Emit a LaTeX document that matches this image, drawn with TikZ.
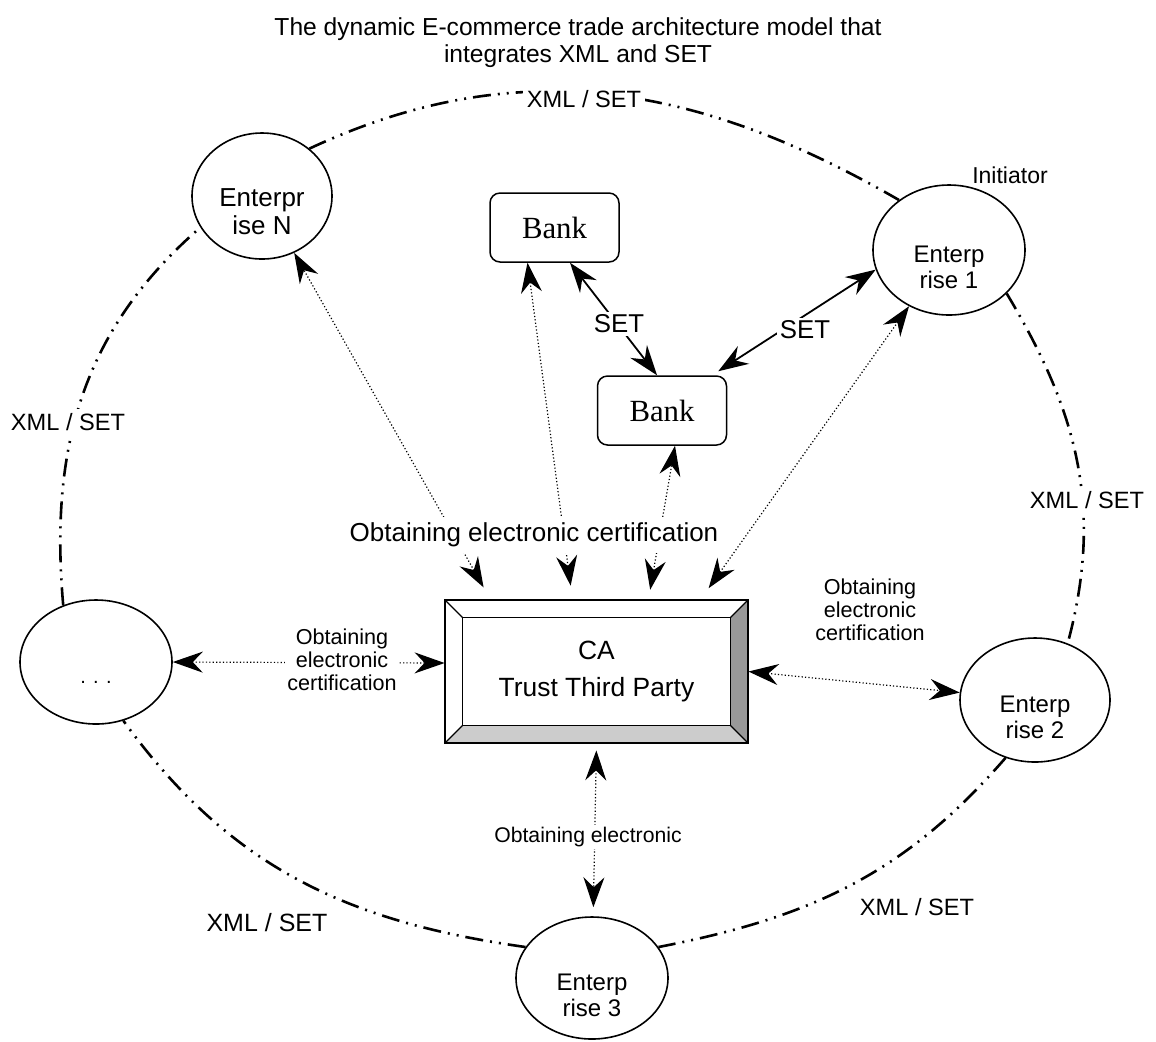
\documentclass[tikz,border=0pt]{standalone}
\usepackage{fontspec}
\setmainfont{Liberation Sans}
\newfontfamily\bankfont{Liberation Serif}
\usetikzlibrary{arrows.meta,shapes.geometric}

\begin{document}
\begin{tikzpicture}[x=0.5pt, y=0.5pt,
  >={Stealth[length=15pt, width=10.5pt, inset=5pt]},
  % Node styles
  entbox/.style={ellipse, draw, fill=white, line width=0.8pt, inner sep=0pt,
    align=center, font=\fontsize{12}{13}\selectfont,
    execute at begin node={\rule{0pt}{#1}}},
  entbox/.default=39pt,
  bankbox/.style={rectangle, rounded corners=5pt, draw, line width=0.75pt,
    minimum width=64.5pt, minimum height=34.5pt,
    font=\bankfont\fontsize{15.4}{17}\selectfont},
  cabox/.style={rectangle, fill=white, minimum width=151.5pt, minimum height=71.5pt,
    align=center, font=\fontsize{13.2}{18.5}\selectfont},
  ringlbl/.style={fill=white, inner sep=2pt, font=\fontsize{11.8}{13}\selectfont},
  certlbl/.style={fill=white, inner sep=1pt, align=center,
    font=\fontsize{10.8}{11.5}\selectfont},
  setlbl/.style={fill=white, inner sep=1.5pt, font=\fontsize{12.9}{14}\selectfont},
  ring/.style={line width=1.3pt,
    dash pattern=on 9pt off 3.5pt on 1pt off 3.5pt on 1pt off 3.5pt},
  certarr/.style={<->, line width=0.6pt, dash pattern=on 0.6pt off 1.1pt},
  setarr/.style={<->, line width=0.9pt},
]
\useasboundingbox (0,0) rectangle (1156,-1041);

% === Title ===
\node[align=center, font=\fontsize{12.3}{13.5}\selectfont] (title) at (578,-43)
  {The dynamic E-commerce trade architecture model that\\integrates XML and SET};

% === Enterprises on the ring ===
\node[entbox, minimum width=70pt, minimum height=63pt, font=\fontsize{13}{14}\selectfont]
  (eN) at (262,-196) {Enterpr\\ise N};
\node[entbox, minimum width=76pt, minimum height=65pt] (e1) at (949,-250) {Enterp\\rise 1};
\node[entbox, minimum width=75pt, minimum height=62pt] (e2) at (1035,-700) {Enterp\\rise 2};
\node[entbox, minimum width=76pt, minimum height=61pt] (e3) at (592,-978) {Enterp\\rise 3};
\node[entbox=21pt, minimum width=76pt, minimum height=62pt, font=\fontsize{10}{11}\selectfont]
  (eDots) at (96,-662) {. . .};

\node[font=\fontsize{11.5}{13}\selectfont] (init) at (1010,-175) {Initiator};

% === Banks ===
\node[bankbox] (bank1) at (554.5,-227.5) {Bank};
\node[bankbox] (bank2) at (662,-410.5) {Bank};

% === CA box with bevel ===
\node[cabox] (ca) at (596.5,-671.5) {CA\\Trust Third Party};
\fill[black!40] (ca.north east) -- (ca.south east) -- ([shift={(-9pt,9pt)}]ca.south east)
  -- ([shift={(-9pt,-9pt)}]ca.north east) -- cycle;
\fill[black!20] (ca.south west) -- (ca.south east) -- ([shift={(-9pt,9pt)}]ca.south east)
  -- ([shift={(9pt,9pt)}]ca.south west) -- cycle;
\draw[line width=0.6pt] ([shift={(9pt,-9pt)}]ca.north west) rectangle ([shift={(-9pt,9pt)}]ca.south east);
\foreach \a/\sx/\sy in {north west/9pt/-9pt, north east/-9pt/-9pt, south west/9pt/9pt, south east/-9pt/9pt}
  \draw[line width=0.6pt] (ca.\a) -- ([shift={(\sx,\sy)}]ca.\a);
\draw[line width=1pt] (ca.north west) rectangle (ca.south east);

% === Ring: XML / SET ===
\draw[ring] (eN.45) to[out=25, in=150] (e1.135);
\draw[ring] (e1.-37) to[out=-59, in=75] (e2.60);
\draw[ring] (e2.-117) to[out=-131, in=11] (e3.25);
\draw[ring] (e3.155) to[out=172, in=-54] (eDots.-65);
\draw[ring] (eDots.120) to[out=95, in=221] (eN.207);

\node[ringlbl] (xmlT) at (584,-99) {XML / SET};
\node[ringlbl] (xmlR) at (1087,-500) {XML / SET};
\node[ringlbl] (xmlBR) at (917,-907) {XML / SET};
\node[ringlbl, font=\fontsize{12.5}{13}\selectfont] (xmlBL) at (267,-923) {XML / SET};
\node[ringlbl] (xmlL) at (68,-422) {XML / SET};

% === Certification arrows (CA <-> parties) ===
\draw[certarr, shorten <=7pt] ([xshift=-53pt]ca.north) -- (eN);
\draw[certarr, shorten <=7pt] ([xshift=-12pt]ca.north) -- ([xshift=-13.5pt]bank1.south);
\draw[certarr, shorten <=5pt] ([xshift=26pt]ca.north) -- ([xshift=6.5pt]bank2.south);
\draw[certarr, shorten <=7pt] ([xshift=52pt]ca.north) -- (e1);
\node[fill=white, inner xsep=1pt, inner ysep=3pt, font=\fontsize{13}{14}\selectfont]
  (certT) at (534,-535) {Obtaining electronic certification};

\draw[certarr] (eDots.east) -- ([yshift=4.25pt]ca.west);
\node[certlbl] (certL) at (342,-660) {Obtaining\\electronic\\certification};

\draw[certarr] (ca.east) -- (e2);
\node[certlbl] (certR) at (870,-610) {Obtaining\\electronic\\certification};

\draw[certarr, shorten <=3.5pt, shorten >=4.5pt] (ca.south) -- (e3);
\node[certlbl, font=\fontsize{10.6}{11.5}\selectfont] (certB) at (588,-837) {Obtaining electronic};

% === SET arrows ===
\draw[setarr] ([xshift=7.75pt]bank1.south) -- ([xshift=-2.5pt]bank2.north);
\node[setlbl] (set1) at (619,-324) {SET};
\draw[setarr] ([shift={(-4.5pt,2pt)}]bank2.north east) -- (e1.-165);
\node[setlbl] (set2) at (805,-330) {SET};

\end{tikzpicture}
\end{document}
